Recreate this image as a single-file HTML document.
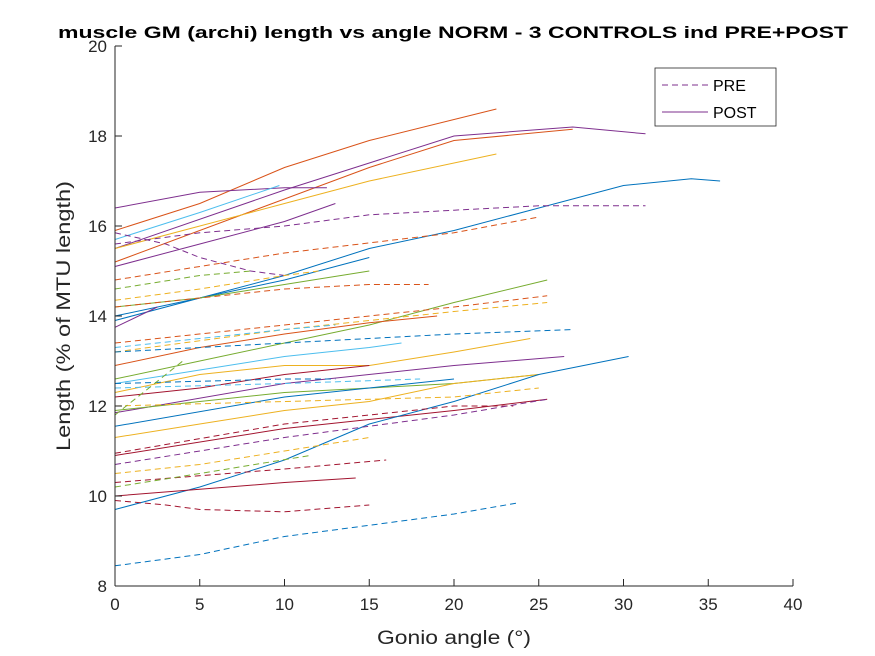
<!DOCTYPE html>
<html><head><meta charset="utf-8"><style>
body{margin:0;background:#fff;}
svg{display:block;font-family:"Liberation Sans",Arial,sans-serif;}
</style></head><body>
<svg id="chart" width="875" height="656" viewBox="0 0 875 656">
<rect width="875" height="656" fill="#fff"/>
<text x="453" y="38" text-anchor="middle" font-size="17" font-weight="bold" fill="#000" textLength="790" lengthAdjust="spacingAndGlyphs">muscle GM (archi) length vs angle NORM - 3 CONTROLS ind PRE+POST</text>
<g id="plot"></g>
<g id="axes"></g>
<text x="454" y="644" text-anchor="middle" font-size="19" fill="#262626" textLength="154" lengthAdjust="spacingAndGlyphs">Gonio angle (°)</text>
<text transform="translate(70,316) rotate(-90)" text-anchor="middle" font-size="19" fill="#262626" textLength="270" lengthAdjust="spacingAndGlyphs">Length (% of MTU length)</text>
<g>
<rect x="655" y="68" width="121" height="58" fill="#fff" stroke="#262626" stroke-width="0.8"/>
<g><line x1="662" y1="85" x2="708" y2="85" stroke="#7E2F8E" stroke-dasharray="6,4" stroke-width="1"/><text x="713" y="91" font-size="16" fill="#000">PRE</text></g>
<g><line x1="662" y1="112" x2="708" y2="112" stroke="#7E2F8E" stroke-width="1"/><text x="713" y="118" font-size="16" fill="#000">POST</text></g>
</g>
</svg>
<script>
const xTicks=[0,5,10,15,20,25,30,35,40];
const yTicks=[8,10,12,14,16,18,20];
const seriesColor=["#D95319","#7E2F8E","#D95319","#EDB120","#7E2F8E","#4DBEEE","#7E2F8E","#0072BD","#0072BD","#77AC30","#7E2F8E","#77AC30","#D95319","#4DBEEE","#EDB120","#7E2F8E","#77AC30","#A2142F","#0072BD","#EDB120","#A2142F","#0072BD","#A2142F",
"#7E2F8E","#7E2F8E","#D95319","#77AC30","#EDB120","#D95319","#D95319","#EDB120","#4DBEEE","#0072BD","#0072BD","#4DBEEE","#EDB120","#A2142F","#7E2F8E","#EDB120","#A2142F","#77AC30","#A2142F","#0072BD","#77AC30"];
const seriesDashed=[0,0,0,0,0,0,0,0,0,0,0,0,0,0,0,0,0,0,0,0,0,0,0,1,1,1,1,1,1,1,1,1,1,1,1,1,1,1,1,1,1,1,1,1];
const seriesX=[
[0,5,10,15,22.5],[0,10,15,20,27,31.3],[0,10,15,20,27],[0,10,15,22.5],[0,5,10,12.5],[0,5,9.7],[0,5,10,13],
[0,5,10,15,20,25,30,34,35.7],[0,5,10,15],[0,5,10,15],[0,2.5],[0,5,10,15,20,25.5],[0,5,10,15,19],[0,5,10,15,16.9],
[0,5,10,15,20,24.5],[0,10,20,26.5],[0,10,20,25],[0,5,10,15],[0,10,20],[0,5,10,15,20,25],[0,10,20,25.5],
[0,5,10,15,20,25,30.3],[0,5,10,14.2],
[0,5,10,15,20,25,31.3],[0,3,5,8,10],[0,10,20,25],[0,5,8],[0,5,10,12],[0,5,10,15,18.5],[0,10,20,25.5],[0,10,20,25.5],
[0,5,10,13],[0,10,20,27],[0,5,10,13],[0,10,18],[0,10,20,25],[0,10,20,23.5],[0,10,20,25.5],[0,5,10,15],[0,10,16],
[0,5,11.5],[0,3,5,10,15],[0,5,10,15,20,23.8],[0,4]];
const seriesY=[
[15.9,16.5,17.3,17.9,18.6],[15.5,16.8,17.4,18.0,18.2,18.05],[15.2,16.6,17.3,17.9,18.15],[15.5,16.5,17.0,17.6],[16.4,16.75,16.85,16.85],[15.7,16.3,16.9],[15.1,15.6,16.1,16.5],
[14.0,14.4,14.9,15.5,15.9,16.4,16.9,17.05,17.0],[13.9,14.4,14.8,15.3],[14.2,14.4,14.7,15.0],[13.75,14.2],[12.6,13.0,13.4,13.8,14.3,14.8],[12.9,13.3,13.6,13.85,14.0],[12.5,12.8,13.1,13.3,13.4],
[12.3,12.7,12.9,12.9,13.2,13.5],[11.85,12.5,12.9,13.1],[11.9,12.3,12.5,12.7],[12.2,12.4,12.7,12.9],[11.55,12.2,12.6],[11.3,11.6,11.9,12.1,12.5,12.7],[10.9,11.5,11.9,12.15],
[9.7,10.2,10.8,11.6,12.1,12.7,13.1],[10.0,10.15,10.3,10.4],
[15.6,15.85,16.0,16.25,16.35,16.45,16.45],[15.85,15.6,15.3,15.0,14.9],[14.8,15.4,15.85,16.2],[14.6,14.9,15.0],[14.35,14.6,14.9,15.0],[14.2,14.4,14.6,14.7,14.7],[13.4,13.8,14.2,14.45],[13.2,13.7,14.1,14.3],
[13.3,13.5,13.7,13.8],[13.2,13.4,13.6,13.7],[12.5,12.55,12.6,12.6],[12.4,12.5,12.6],[12.0,12.1,12.2,12.4],[10.95,11.6,12.0,12.0],[10.7,11.3,11.8,12.15],[10.5,10.7,11.0,11.3],[10.3,10.6,10.8],
[10.2,10.5,10.9],[9.9,9.8,9.7,9.65,9.8],[8.45,8.7,9.1,9.35,9.6,9.85],[11.8,13.0]];
const X0=115,X1=793,Y0=586,Y1=46;
const sx=v=>X0+(v-0)/(40-0)*(X1-X0);
const sy=v=>Y0-(v-8)/(20-8)*(Y0-Y1);
const NS="http://www.w3.org/2000/svg";
const plot=document.getElementById('plot'),axes=document.getElementById('axes');
seriesX.forEach((xs,i)=>{
  const p=document.createElementNS(NS,'polyline');
  p.setAttribute('points',xs.map((x,j)=>sx(x).toFixed(1)+','+sy(seriesY[i][j]).toFixed(1)).join(' '));
  p.setAttribute('fill','none');p.setAttribute('stroke',seriesColor[i]);p.setAttribute('stroke-width','1');
  if(seriesDashed[i])p.setAttribute('stroke-dasharray','6,4');
  
  
  plot.appendChild(p);
});
function ln(x1,y1,x2,y2){const l=document.createElementNS(NS,'line');l.setAttribute('x1',x1);l.setAttribute('y1',y1);l.setAttribute('x2',x2);l.setAttribute('y2',y2);l.setAttribute('stroke','#262626');l.setAttribute('stroke-width','1');axes.appendChild(l);return l;}
function tx(x,y,s,a){const t=document.createElementNS(NS,'text');t.setAttribute('x',x);t.setAttribute('y',y);t.setAttribute('text-anchor',a);t.setAttribute('font-size','17');t.setAttribute('fill','#262626');t.textContent=s;axes.appendChild(t);return t;}
const xa=ln(X0,Y0,X1,Y0);


const ya=ln(X0,Y0,X0,Y1);


xTicks.forEach(v=>{ln(sx(v),Y0,sx(v),Y0-7);const t=tx(sx(v),Y0+24,String(v),'middle');

});
yTicks.forEach(v=>{ln(X0,sy(v),X0+7,sy(v));const t=tx(X0-8,sy(v)+6,String(v),'end');

});
</script>
</body></html>
